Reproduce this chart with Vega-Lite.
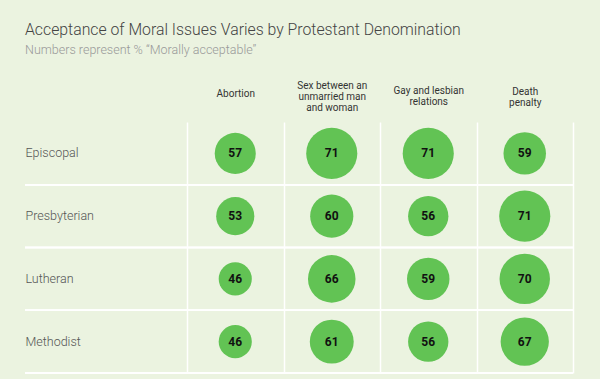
{
  "$schema": "https://vega.github.io/schema/vega-lite/v6.json",
  "width": 548,
  "height": 244,
  "autosize": {"type": "none"},
  "padding": {"left": 25, "top": 135, "right": 27, "bottom": 0},
  "background": "#ebf3e0",
  "title": {
    "text": "Acceptance of Moral Issues Varies by Protestant Denomination",
    "subtitle": "Numbers represent % \u201cMorally acceptable\u201d",
    "anchor": "start",
    "frame": "group",
    "font": "Roboto",
    "fontSize": 15.8,
    "fontWeight": 300,
    "color": "#444444",
    "subtitleFont": "Roboto",
    "subtitleFontSize": 12.5,
    "subtitleFontWeight": 300,
    "subtitleColor": "#999999",
    "subtitlePadding": 6,
    "offset": 22
  },
  "config": {"view": {"stroke": null}, "font": "Roboto"},
  "data": {
    "values": [
      {"denomination": "Episcopal", "issue": "Abortion", "pct": 57},
      {"denomination": "Episcopal", "issue": "Sex between an unmarried man and woman", "pct": 71},
      {"denomination": "Episcopal", "issue": "Gay and lesbian relations", "pct": 71},
      {"denomination": "Episcopal", "issue": "Death penalty", "pct": 59},
      {"denomination": "Presbyterian", "issue": "Abortion", "pct": 53},
      {"denomination": "Presbyterian", "issue": "Sex between an unmarried man and woman", "pct": 60},
      {"denomination": "Presbyterian", "issue": "Gay and lesbian relations", "pct": 56},
      {"denomination": "Presbyterian", "issue": "Death penalty", "pct": 71},
      {"denomination": "Lutheran", "issue": "Abortion", "pct": 46},
      {"denomination": "Lutheran", "issue": "Sex between an unmarried man and woman", "pct": 66},
      {"denomination": "Lutheran", "issue": "Gay and lesbian relations", "pct": 59},
      {"denomination": "Lutheran", "issue": "Death penalty", "pct": 70},
      {"denomination": "Methodist", "issue": "Abortion", "pct": 46},
      {"denomination": "Methodist", "issue": "Sex between an unmarried man and woman", "pct": 61},
      {"denomination": "Methodist", "issue": "Gay and lesbian relations", "pct": 56},
      {"denomination": "Methodist", "issue": "Death penalty", "pct": 67}
    ]
  },
  "encoding": {
    "y": {
      "field": "denomination",
      "type": "nominal",
      "sort": ["Episcopal", "Presbyterian", "Lutheran", "Methodist"],
      "scale": {"range": [-13, 238], "paddingInner": 0, "paddingOuter": 0},
      "axis": {
        "title": null,
        "orient": "left",
        "ticks": false,
        "domain": false,
        "grid": false,
        "labelAlign": "left",
        "labelPadding": 0,
        "labelFontSize": 12.5,
        "labelFont": "Roboto",
        "labelFontWeight": 300,
        "labelColor": "#555555"
      }
    }
  },
  "layer": [
    {
      "mark": {"type": "rule", "color": "#ffffff", "strokeWidth": 1.5},
      "encoding": {
        "y": {
          "field": "denomination",
          "type": "nominal",
          "sort": ["Episcopal", "Presbyterian", "Lutheran", "Methodist"],
          "bandPosition": 1
        }
      }
    },
    {
      "mark": {"type": "circle", "color": "#62c354", "opacity": 1},
      "encoding": {
        "x": {
          "field": "issue",
          "type": "nominal",
          "sort": ["Abortion", "Sex between an unmarried man and woman", "Gay and lesbian relations", "Death penalty"],
          "scale": {"range": [162, 548], "paddingInner": 0, "paddingOuter": 0},
          "axis": {
            "title": null,
            "orient": "top",
            "ticks": false,
            "domain": false,
            "grid": true,
            "tickBand": "extent",
            "gridColor": "#ffffff",
            "gridWidth": 1.5,
            "gridOpacity": 1,
            "labelAngle": 0,
            "labelAlign": "center",
            "labelBaseline": "middle",
            "labelPadding": {
              "condition": [
                {"test": "datum.value == 'Abortion'", "value": 42},
                {"test": "datum.value == 'Sex between an unmarried man and woman'", "value": 50},
                {"test": "datum.value == 'Gay and lesbian relations'", "value": 45}
              ],
              "value": 44
            },
            "labelFontSize": 10,
            "labelFontWeight": 400,
            "labelLineHeight": 11.3,
            "labelColor": "#333333",
            "labelLimit": 0,
            "labelExpr": "datum.value == 'Sex between an unmarried man and woman' ? ['Sex between an', 'unmarried man', 'and woman'] : datum.value == 'Gay and lesbian relations' ? ['Gay and lesbian', 'relations'] : datum.value == 'Death penalty' ? ['Death', 'penalty'] : datum.value"
          }
        },
        "size": {
          "field": "pct",
          "type": "quantitative",
          "scale": {"type": "pow", "exponent": 2, "domain": [0, 100], "range": [0, 5184]},
          "legend": null
        }
      }
    },
    {
      "mark": {"type": "text", "fontWeight": "bold", "fontSize": 12, "color": "#111111", "font": "Roboto"},
      "encoding": {
        "x": {
          "field": "issue",
          "type": "nominal",
          "sort": ["Abortion", "Sex between an unmarried man and woman", "Gay and lesbian relations", "Death penalty"]
        },
        "text": {"field": "pct", "type": "quantitative"}
      }
    }
  ]
}
